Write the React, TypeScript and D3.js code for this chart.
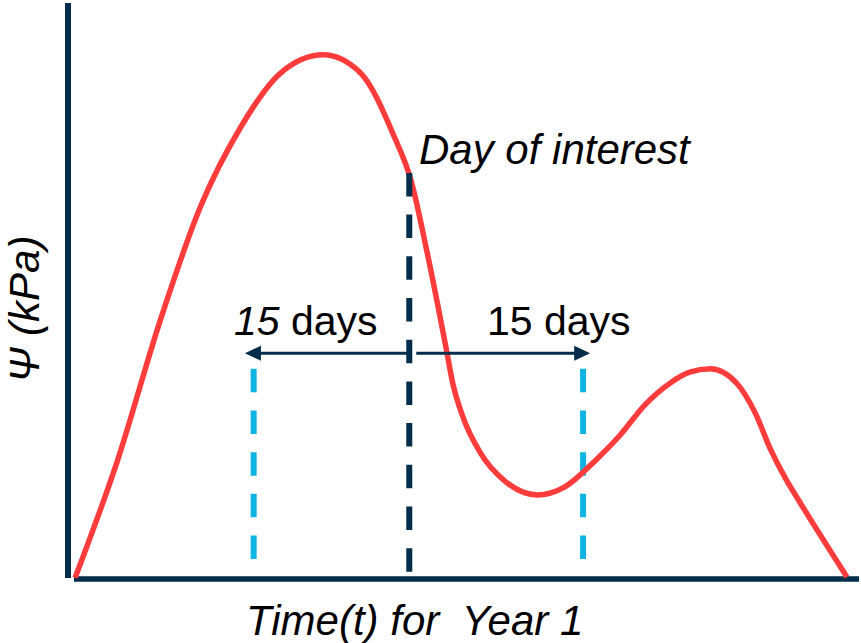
import React from "react";
import * as d3 from "d3";

// Schematic Ψ curve (arbitrary units: time 0–100, Ψ 0–100)
const timeValues = [
  0.9, 6.2, 11.7, 16.7, 21.8, 26.8, 32.3, 37.0, 41.1, 43.5, 45.4, 47.9, 48.7, 50.0,
  52.2, 55.3, 59.4, 62.9, 66.7, 69.9, 73.0, 76.2, 78.7, 81.3, 84.7, 87.0, 88.9,
  90.8, 92.7, 98.6,
];
const psiValues = [
  0.2, 20.3, 45.0, 64.4, 78.3, 87.7, 91.0, 87.9, 77.4, 68.8, 57.1, 39.8, 34.0, 28.1,
  21.9, 17.0, 14.6, 16.0, 20.5, 25.0, 30.2, 34.0, 35.9, 36.5, 33.9, 28.8, 22.6,
  17.5, 13.2, 0.35,
];

// Annotation values
const dayOfInterest = 43.2;
const dayOfInterestTop = 70.5;
const windowMarkers = [23.5, 65.2];
const windowTop = 36.5;
const windowBottom = 3.1;
const arrowLevel = 39.2;
const arrowTips = [22.4, 66.1];
const labels = {
  xAxis: "Time(t) for  Year 1",
  yAxis: "Ψ (kPa)",
  day: "Day of interest",
  days: "days",
  count: "15",
};

const NAVY = "#022d4b";
const RED = "#ff3c3c";
const CYAN = "#0fb4e3";
const FONT = "'Liberation Sans', Arial, sans-serif";

export default function App() {
  const W = 861;
  const H = 643;
  const x = d3.scaleLinear().domain([0, 100]).range([68, 858]);
  const y = d3.scaleLinear().domain([0, 100]).range([579, 3]);

  const pts: [number, number][] = timeValues.map((t, i) => [t, psiValues[i]]);
  const line = d3
    .line<[number, number]>()
    .x((d) => x(d[0]))
    .y((d) => y(d[1]))
    .curve(d3.curveMonotoneX);

  const ay = y(arrowLevel);
  const xd = x(dayOfInterest);
  const leftTip = x(arrowTips[0]);
  const rightTip = x(arrowTips[1]);
  const headLen = 16;
  const headHalf = 7.5;

  return (
    <svg
      width={W}
      height={H}
      viewBox={`0 0 ${W} ${H}`}
      style={{ position: "absolute", left: 0, top: 0, background: "#fff" }}
      fontFamily={FONT}
    >
      <rect x={0} y={0} width={W} height={H} fill="#fff" />
      {/* axes */}
      <line x1={x(0)} y1={y(100)} x2={x(0)} y2={578} stroke={NAVY} strokeWidth={6} />
      <line x1={74} y1={y(0)} x2={x(100) + 1} y2={y(0)} stroke={NAVY} strokeWidth={5.5} />

      {/* window markers (cyan dashed) */}
      {windowMarkers.map((t, i) => (
        <line
          key={i}
          x1={x(t)}
          x2={x(t)}
          y1={y(windowTop)}
          y2={y(windowBottom)}
          stroke={CYAN}
          strokeWidth={6}
          strokeDasharray="23.5 18.2"
        />
      ))}

      {/* curve */}
      <path d={line(pts) || ""} fill="none" stroke={RED} strokeWidth={5.5} strokeLinejoin="round" />

      {/* day of interest (dark dashed) */}
      <line
        x1={xd}
        x2={xd}
        y1={y(dayOfInterestTop)}
        y2={y(0) - 3}
        stroke={NAVY}
        strokeWidth={6}
        strokeDasharray="23.5 18.2"
      />

      {/* arrows */}
      <line x1={leftTip + headLen - 1} x2={xd} y1={ay} y2={ay} stroke={NAVY} strokeWidth={3} />
      <path
        d={`M${leftTip},${ay} L${leftTip + headLen},${ay - headHalf} L${leftTip + headLen},${ay + headHalf} Z`}
        fill={NAVY}
      />
      <line x1={xd + 7} x2={rightTip - headLen + 1} y1={ay} y2={ay} stroke={NAVY} strokeWidth={3} />
      <path
        d={`M${rightTip},${ay} L${rightTip - headLen},${ay - headHalf} L${rightTip - headLen},${ay + headHalf} Z`}
        fill={NAVY}
      />

      {/* texts */}
      <text x={234} y={335} fontSize={41} fill="#000">
        <tspan fontStyle="italic">{labels.count}</tspan>
        <tspan> {labels.days}</tspan>
      </text>
      <text x={487} y={335} fontSize={41} fill="#000">
        {labels.count} {labels.days}
      </text>
      <text x={419} y={164} fontSize={42} fontStyle="italic" fill="#000">
        {labels.day}
      </text>
      <text x={246} y={635} fontSize={42} fontStyle="italic" fill="#000" style={{ whiteSpace: "pre" }}>
        {labels.xAxis}
      </text>
      <text
        transform="translate(39,309) rotate(-90)"
        textAnchor="middle"
        fontSize={42}
        fontStyle="italic"
        fill="#000"
      >
        {labels.yAxis}
      </text>
    </svg>
  );
}
